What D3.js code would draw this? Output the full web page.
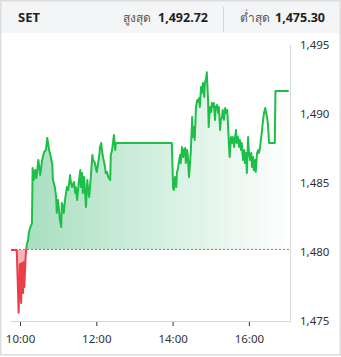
<!DOCTYPE html>
<html>
<head>
<meta charset="utf-8">
<script src="https://cdn.jsdelivr.net/npm/d3@7"></script>
<style>
  body { margin: 0; background: #fff; }
  text { font-family: "Segoe UI", "Noto Sans", "Open Sans", sans-serif; }
</style>
</head>
<body>
<div id="plot"></div>
<script>
// SET index intraday, minutes counted from 10:00
var minutesFrom10 = [-15, -6, -4, -3, -1, 1, 2, 4, 5, 6, 8, 9, 10, 12, 13, 15, 18, 19, 21, 23, 25, 28, 31, 34, 37, 40,
  42, 45, 48, 50, 51, 54, 56, 57, 59, 62, 64, 65, 67, 68, 70, 73, 75, 78, 79, 81, 84, 86, 87, 89, 92, 94, 95, 97, 98,
  100, 103, 105, 106, 108, 111, 113, 114, 117, 119, 120, 124, 125, 127, 128, 130, 133, 134, 136, 138, 141, 142, 144,
  146, 147, 149, 150, 238,
  240, 241, 243, 245, 246, 248, 251, 252, 254, 256, 257, 259, 260, 262, 263, 265, 268, 270, 271, 273, 274, 276, 278,
  279, 281, 282, 284, 285, 287, 289, 290, 292, 293, 295, 296, 298, 300, 301, 303, 304, 306, 307, 309, 311, 312, 314,
  315, 317, 318, 320, 322, 323, 325, 326, 328, 329, 331, 333, 334, 336, 337, 339, 340, 342, 344, 345, 347, 348, 350,
  352, 353, 355, 356, 358, 359, 361, 363, 364, 366, 367, 369, 370, 372, 374, 375, 377, 378, 380, 381, 383, 385, 386,
  388, 389, 391, 400, 401, 422];
var prices = [1479.85, 1479.85, 1476.95, 1475.30, 1478.83, 1476.00, 1478.90, 1476.73, 1478.98, 1477.16, 1479.34,
  1479.92, 1480.28, 1480.57, 1481.08, 1481.44, 1481.80, 1485.79, 1484.92, 1485.64, 1485.06, 1486.37, 1485.28,
  1486.37, 1486.95, 1487.09, 1487.96, 1487.09, 1486.51, 1486.00, 1484.92, 1484.41, 1483.69, 1482.53, 1483.47,
  1482.02, 1481.51, 1483.25, 1482.96, 1482.53, 1483.47, 1484.41, 1484.19, 1485.28, 1484.77, 1484.41, 1484.77,
  1483.98, 1484.41, 1483.47, 1484.92, 1485.64, 1484.41, 1485.42, 1483.98, 1485.13, 1482.96, 1484.92, 1484.41,
  1483.69, 1485.42, 1486.73, 1486.37, 1486.15, 1485.64, 1485.50, 1486.73, 1487.31, 1487.60, 1487.09, 1486.51,
  1485.86, 1485.42, 1485.50, 1485.13, 1484.92, 1486.73, 1487.09, 1487.82, 1488.18, 1487.09, 1487.60, 1487.60,
  1484.34, 1484.19, 1485.13, 1484.41, 1485.42, 1485.86, 1486.73, 1486.15, 1487.31, 1486.58, 1487.09, 1487.24,
  1486.15, 1487.09, 1486.73, 1485.13, 1487.09, 1489.48, 1488.03, 1488.76, 1487.82, 1490.21, 1490.71, 1490.57,
  1490.86, 1490.21, 1491.66, 1491.22, 1491.95, 1490.93, 1491.95, 1492.31, 1492.72, 1490.71, 1488.76, 1490.21,
  1489.84, 1490.50, 1490.21, 1490.50, 1489.27, 1490.21, 1490.35, 1489.77, 1490.21, 1488.54, 1489.27, 1489.48,
  1489.99, 1489.27, 1490.14, 1489.77, 1489.99, 1489.27, 1487.31, 1486.58, 1488.03, 1487.60, 1488.03, 1487.31,
  1487.82, 1488.54, 1487.60, 1488.03, 1487.31, 1487.82, 1487.09, 1487.60, 1486.37, 1487.09, 1486.15, 1486.87,
  1485.42, 1488.03, 1487.09, 1486.37, 1486.87, 1485.86, 1486.58, 1485.64, 1486.37, 1485.50, 1486.87, 1487.09,
  1486.87, 1487.31, 1487.82, 1488.54, 1489.05, 1489.77, 1490.14, 1489.84, 1489.41, 1489.05, 1487.60, 1487.60,
  1491.37, 1491.37];
var prevClose = 1479.89;
var yTicks = [1475, 1480, 1485, 1490, 1495];
var xTickHours = [10, 12, 14, 16];
var headerName = "SET";
var highLabel = "สูงสุด", highValue = "1,492.72";
var lowLabel = "ต่ำสุด", lowValue = "1,475.30";

var W = 341, H = 357;
var svg = d3.select("div#plot").append("svg")
    .attr("width", W)
    .attr("height", H);

function toDate(m) { return new Date(2024, 0, 1, 10, m); }
var data = minutesFrom10.map(function(m, i) { return {t: toDate(m), v: prices[i]}; });

var x = d3.scaleTime()
    .domain([toDate(-15), toDate(425)])
    .range([11, 290.7]);
var y = d3.scaleLinear()
    .domain([1474.7, 1494.7])
    .range([321, 45]);

var yBase = y(prevClose);

// header
svg.append("rect").attr("x", 1).attr("y", 1).attr("width", W - 2).attr("height", 32).attr("fill", "#f4f5f6");
svg.append("rect").attr("x", 0.75).attr("y", 0.75).attr("width", W - 1.5).attr("height", H - 3)
    .attr("fill", "none").attr("stroke", "#dedede").attr("stroke-width", 1.5);
svg.append("text").attr("x", 18).attr("y", 22).style("font-size", "13px").style("font-weight", "bold")
    .attr("fill", "#222").text(headerName);
svg.append("text").attr("x", 123).attr("y", 22).style("font-size", "12px").attr("fill", "#555").text(highLabel);
svg.append("text").attr("x", 158).attr("y", 22).style("font-size", "12.5px").style("font-weight", "bold")
    .attr("fill", "#222").text(highValue);
svg.append("line").attr("x1", 223.5).attr("x2", 223.5).attr("y1", 7).attr("y2", 32).attr("stroke", "#d6d6d6");
svg.append("text").attr("x", 240).attr("y", 22).style("font-size", "12px").attr("fill", "#555").text(lowLabel);
svg.append("text").attr("x", 275).attr("y", 22).style("font-size", "12.5px").style("font-weight", "bold")
    .attr("fill", "#222").text(lowValue);

// gradient fill
var defs = svg.append("defs");
var grad = defs.append("linearGradient").attr("id", "upFill")
    .attr("gradientUnits", "userSpaceOnUse")
    .attr("x1", x.range()[0]).attr("x2", x.range()[1]).attr("y1", 0).attr("y2", 0);
grad.append("stop").attr("offset", "0%").attr("stop-color", "#a3ddbc");
grad.append("stop").attr("offset", "100%").attr("stop-color", "#ffffff");

// line clips (red line keeps the flat pre-open stretch at the base level)
defs.append("clipPath").attr("id", "above").append("rect")
    .attr("x", 0).attr("y", 0).attr("width", W).attr("height", yBase - 1);
defs.append("clipPath").attr("id", "below").append("rect")
    .attr("x", 0).attr("y", yBase - 1).attr("width", W).attr("height", H);
// fill clips split exactly at the base
defs.append("clipPath").attr("id", "aboveFill").append("rect")
    .attr("x", 0).attr("y", 0).attr("width", W).attr("height", yBase);
defs.append("clipPath").attr("id", "belowFill").append("rect")
    .attr("x", 0).attr("y", yBase).attr("width", W).attr("height", H);

var area = d3.area().x(function(d) { return x(d.t); }).y0(yBase).y1(function(d) { return y(d.v); });
var line = d3.line().x(function(d) { return x(d.t); }).y(function(d) { return y(d.v); });

svg.append("path").datum(data).attr("d", area).attr("fill", "url(#upFill)").attr("clip-path", "url(#aboveFill)");
svg.append("path").datum(data).attr("d", area).attr("fill", "#f8b5b9").attr("clip-path", "url(#belowFill)");

// axes
svg.append("line").attr("x1", 11).attr("x2", 290.7).attr("y1", 321.5).attr("y2", 321.5).attr("stroke", "#d4d4d4");
svg.append("line").attr("x1", 290.5).attr("x2", 290.5).attr("y1", 45).attr("y2", 321.5).attr("stroke", "#d8d8d8");

svg.append("line").attr("x1", 11).attr("x2", 290).attr("y1", yBase).attr("y2", yBase)
    .attr("stroke", "#666").attr("stroke-dasharray", "2,2").attr("stroke-width", 0.8);

svg.append("path").datum(data).attr("d", line).attr("fill", "none").attr("stroke", "#1dbf48")
    .attr("stroke-width", 2).attr("stroke-linejoin", "round").attr("clip-path", "url(#above)");
svg.append("path").datum(data).attr("d", line).attr("fill", "none").attr("stroke", "#ea3f48")
    .attr("stroke-width", 2).attr("stroke-linejoin", "round").attr("clip-path", "url(#below)");

var xt = svg.selectAll(".xt").data(xTickHours).enter().append("g")
    .attr("transform", function(h) { return "translate(" + x(new Date(2024, 0, 1, h, 0)) + ",0)"; });
xt.append("line").attr("y1", 322).attr("y2", 326).attr("stroke", "#333");
xt.append("text").attr("y", 343).attr("text-anchor", "middle").style("font-size", "11.5px").attr("fill", "#333")
    .text(function(h) { return d3.timeFormat("%H:%M")(new Date(2024, 0, 1, h, 0)); });

svg.selectAll(".yt").data(yTicks).enter().append("text")
    .attr("x", 300).attr("y", function(v) { return y(v) + 8; })
    .style("font-size", "11.5px").attr("fill", "#333")
    .text(d3.format(","));
</script>
</body>
</html>
